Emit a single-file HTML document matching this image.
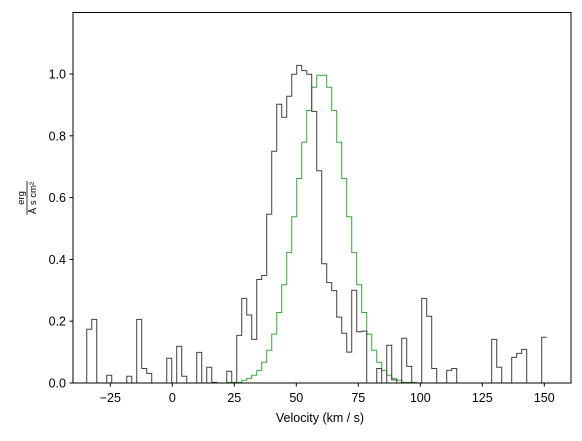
<!DOCTYPE html>
<html><head><meta charset="utf-8"><style>
body{margin:0;background:#fff;}
svg text{font-family:"Liberation Sans","DejaVu Sans",sans-serif;fill:#000;}
</style></head><body>
<svg id="chart" width="582" height="436" xmlns="http://www.w3.org/2000/svg">
<rect x="73" y="12.5" width="498" height="370.5" fill="#fff"/>
<g id="series"></g>
<rect x="73" y="12.5" width="498" height="370.5" fill="none" stroke="#000" stroke-width="1"/>
<g id="axes"></g>
<text x="320" y="422" font-size="12.5" text-anchor="middle">Velocity (km / s)</text>
<g transform="translate(27,198) rotate(-90)">
<text x="0" y="-3" font-size="9.5" text-anchor="middle">erg</text>
<line x1="-17" y1="0" x2="17" y2="0" stroke="#000" stroke-width="0.8"/>
<text x="0" y="9" font-size="9.5" text-anchor="middle">Å s cm²</text>
</g>
</svg>
<script>
const binStart = -34.5;
const binWidth = 2.016;
const blackValues = [0.174,0.206,0,0,0.025,0,0,0,0.022,0,0.206,0.047,0.031,0,0,0,0.080,0,0.119,0.022,0,0,0.099,0,0.051,0.002,0,0,0.038,0,
0.154,0.274,0.220,0.141,0.335,0.348,0.546,0.750,0.902,0.860,0.928,0.999,1.028,1.011,0.999,0.879,0.687,0.386,0.325,0.299,0.213,0.161,0.100,0.300,0.166,0.168,
0,0,0.047,0,0.122,0.010,0,0.145,0.054,0,0,0.274,0.216,0.047,0,0,0.041,0.047,0,0,0,0,0,0,0,0.141,0.051,0,0,0.083,0.096,0.109,0,0,0,0.148];
const greenStartIndex = 27;
const greenValues = [0,0.002,0.002,0.002,0.009,0.015,0.025,0.041,0.067,0.106,0.158,0.228,0.318,0.422,0.538,0.662,0.779,0.882,0.957,0.996,0.996,0.957,0.882,0.779,0.662,0.538,0.422,0.318,0.228,0.158,0.106,0.067,0.041,0.025,0.015,0.009,0.002,0.002,0.002,0];
const xTicks = [-25,0,25,50,75,100,125,150];
const yTicks = [0,0.2,0.4,0.6,0.8,1.0];
const yTickLabels = ["0.0","0.2","0.4","0.6","0.8","1.0"];

const X = v => 172.3 + (v) * 2.48;
const Y = v => 383 - v * 309;
const NS = "http://www.w3.org/2000/svg";
const series = document.getElementById('series');
const axes = document.getElementById('axes');

function stepPath(vals, startIdx){
  let d = "M" + X(binStart + startIdx*binWidth) + "," + Y(0);
  vals.forEach((v,i)=>{
    const x0 = X(binStart + (startIdx+i)*binWidth), x1 = X(binStart + (startIdx+i+1)*binWidth);
    d += " L" + x0 + "," + Y(v) + " L" + x1 + "," + Y(v);
  });
  return d;
}
const gp = document.createElementNS(NS,'path');


gp.setAttribute('d', stepPath(greenValues, greenStartIndex));
gp.setAttribute('fill','none'); gp.setAttribute('stroke','#3aa63a'); gp.setAttribute('stroke-width','1');
series.appendChild(gp);
const bp = document.createElementNS(NS,'path');


bp.setAttribute('d', stepPath(blackValues, 0));
bp.setAttribute('fill','none'); bp.setAttribute('stroke','#404040'); bp.setAttribute('stroke-width','1');
series.appendChild(bp);

xTicks.forEach(t=>{
  const l = document.createElementNS(NS,'line');
  
  
  l.setAttribute('x1',X(t)); l.setAttribute('x2',X(t)); l.setAttribute('y1',383); l.setAttribute('y2',386.5);
  l.setAttribute('stroke','#000');
  axes.appendChild(l);
  const tx = document.createElementNS(NS,'text');
  
  
  tx.setAttribute('x',X(t)); tx.setAttribute('y',402); tx.setAttribute('font-size','12.5'); tx.setAttribute('text-anchor','middle');
  tx.textContent = t < 0 ? '\u2212' + Math.abs(t) : String(t);
  axes.appendChild(tx);
});
yTicks.forEach((t,i)=>{
  const l = document.createElementNS(NS,'line');
  
  
  l.setAttribute('x1',69.5); l.setAttribute('x2',73); l.setAttribute('y1',Y(t)); l.setAttribute('y2',Y(t));
  l.setAttribute('stroke','#000');
  axes.appendChild(l);
  const tx = document.createElementNS(NS,'text');
  
  
  tx.setAttribute('x',66); tx.setAttribute('y',Y(t)+4.5); tx.setAttribute('font-size','12.5'); tx.setAttribute('text-anchor','end');
  tx.textContent = yTickLabels[i];
  axes.appendChild(tx);
});
</script>
</body></html>
